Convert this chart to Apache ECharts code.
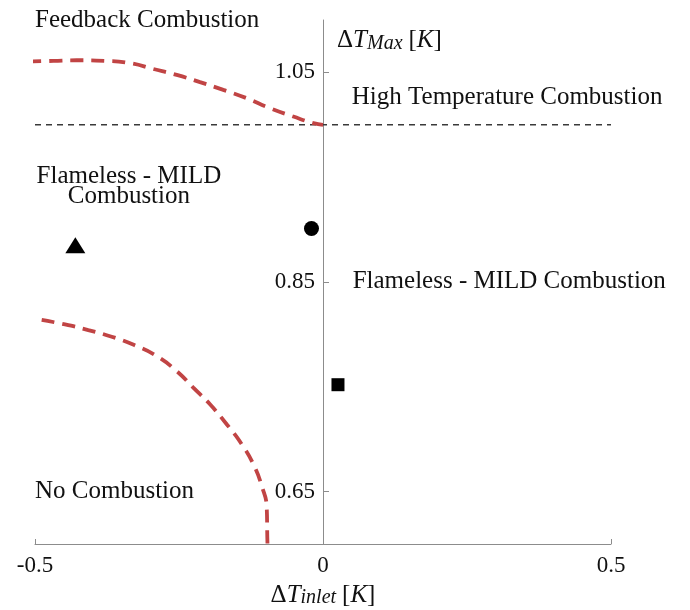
<!DOCTYPE html>
<html>
<head>
<meta charset="utf-8">
<script src="https://cdn.jsdelivr.net/npm/echarts@6/dist/echarts.min.js"></script>
<style>
  html, body { margin: 0; padding: 0; background: #fff; }
  #chart { width: 690px; height: 610px; }
</style>
</head>
<body>
<div id="chart"></div>
<script>
// Axis ticks
const xTicks = [-0.5, 0, 0.5];
const yTicks = [0.65, 0.85, 1.05];

// Regime boundaries (ΔT_inlet, ΔT_max)
const upperBoundary = [
  [-0.5116, 1.0603], [-0.4682, 1.0610], [-0.4276, 1.0616], [-0.3785, 1.0610],
  [-0.3351, 1.0588], [-0.2946, 1.0533], [-0.2540, 1.0476], [-0.2135, 1.0407],
  [-0.1731, 1.0333], [-0.1325, 1.0254], [-0.0920, 1.0159], [-0.0516, 1.0079],
  [-0.0168, 1.0016], [0.0, 1.0]
];
const lowerBoundary = [
  [-0.4884, 0.8138], [-0.4479, 0.8095], [-0.4075, 0.8041], [-0.3668, 0.7978],
  [-0.3276, 0.7898], [-0.2887, 0.7793], [-0.2540, 0.7650], [-0.2252, 0.7492],
  [-0.1962, 0.7333], [-0.1672, 0.7143], [-0.1411, 0.6952], [-0.1210, 0.6762],
  [-0.1064, 0.6555], [-0.0977, 0.6350], [-0.0967, 0.6064], [-0.0964, 0.6]
];
const thresholdLine = [[-0.5, 1.0], [0.5, 1.0]];

// Operating points
const trianglePoint = [[-0.43, 0.885]];
const circlePoint = [[-0.02, 0.901]];
const squarePoint = [[0.026, 0.752]];

// Regime names, anchored in data coordinates
const regionLeftLabels = [
  { value: [-0.5, 1.1], text: 'Feedback Combustion' },
  { value: [0.05, 1.0257], text: 'High Temperature Combustion' },
  { value: [0.0515, 0.8508], text: 'Flameless - MILD Combustion' },
  { value: [-0.5, 0.6505], text: 'No Combustion' }
];
const regionCenterLabels = [
  { value: [-0.337, 0.9413], text: 'Flameless - MILD\nCombustion' }
];

const SERIF = '"Liberation Serif", "Times New Roman", serif';
const INK = '#111';
const AXIS = '#8c8c8c';
const RED = '#c14444';

// Rich-text styles for ΔT with a subscript
const mathRich = {
  a: { fontFamily: SERIF, fontSize: 25, color: INK, fill: INK, height: 26, verticalAlign: 'middle' },
  i: { fontFamily: SERIF, fontSize: 25, fontStyle: 'italic', color: INK, fill: INK, height: 26, verticalAlign: 'middle' },
  s: { fontFamily: SERIF, fontSize: 20, fontStyle: 'italic', color: INK, fill: INK, lineHeight: 16, verticalAlign: 'bottom' },
  b: { fontFamily: SERIF, fontSize: 25, color: INK, fill: INK, height: 26, verticalAlign: 'middle', padding: [0, 0, 0, 6] }
};

const chart = echarts.init(document.getElementById('chart'), null, { renderer: 'canvas' });

const option = {
  backgroundColor: '#ffffff',
  animation: false,
  grid: { left: 35, right: 79, top: 20, bottom: 66, outerBoundsMode: 'none' },
  xAxis: {
    type: 'value',
    min: -0.5,
    max: 0.5,
    interval: 0.5,
    splitLine: { show: false },
    axisLine: { onZero: false, lineStyle: { color: AXIS, width: 1 } },
    axisTick: { show: true, inside: true, length: 5, lineStyle: { color: AXIS }, customValues: xTicks },
    axisLabel: {
      customValues: xTicks,
      margin: 10,
      fontFamily: SERIF, fontSize: 23, color: INK,
      formatter: v => (v === 0 ? '0' : String(v))
    },
    name: '{a|Δ}{i|T}{s|inlet}{b|[}{i|K}{a|]}',
    nameLocation: 'middle',
    nameGap: 38,
    nameTextStyle: { rich: mathRich }
  },
  yAxis: {
    type: 'value',
    min: 0.6,
    max: 1.1,
    // vertical axis sits at ΔT_inlet = 0, half the plot width in from the left edge
    offset: -288,
    splitLine: { show: false },
    axisLine: { onZero: false, lineStyle: { color: AXIS, width: 1 } },
    axisTick: { show: true, inside: true, length: 6, lineStyle: { color: AXIS }, customValues: yTicks },
    axisLabel: {
      customValues: yTicks,
      margin: 8,
      fontFamily: SERIF, fontSize: 23, color: INK,
      formatter: v => v.toFixed(2)
    }
  },
  graphic: [
    {
      type: 'text',
      left: 337,
      top: 28,
      style: {
        text: '{a|Δ}{i|T}{s|Max}{b|[}{i|K}{a|]}',
        rich: mathRich
      }
    }
  ],
  series: [
    {
      type: 'line',
      name: 'threshold',
      data: thresholdLine,
      showSymbol: false,
      silent: true,
      lineStyle: { color: '#3a3a3a', width: 1.5, type: [6, 5] }
    },
    {
      type: 'line',
      name: 'upper boundary',
      data: upperBoundary,
      smooth: 0.5,
      clip: false,
      showSymbol: false,
      lineStyle: { color: RED, width: 3.8, type: [13, 8] }
    },
    {
      type: 'line',
      name: 'lower boundary',
      data: lowerBoundary,
      smooth: 0.5,
      clip: false,
      showSymbol: false,
      lineStyle: { color: RED, width: 3.8, type: [13, 8] }
    },
    {
      type: 'scatter',
      data: trianglePoint,
      symbol: 'triangle',
      symbolSize: [20, 16],
      itemStyle: { color: '#000', opacity: 1 }
    },
    {
      type: 'scatter',
      data: circlePoint,
      symbol: 'circle',
      symbolSize: 15,
      itemStyle: { color: '#000', opacity: 1 }
    },
    {
      type: 'scatter',
      data: squarePoint,
      symbol: 'rect',
      symbolSize: 13,
      itemStyle: { color: '#000', opacity: 1 }
    },
    {
      type: 'scatter',
      data: regionLeftLabels,
      symbolSize: 0,
      silent: true,
      itemStyle: { opacity: 1 },
      label: {
        show: true,
        position: 'inside',
        align: 'left',
        verticalAlign: 'middle',
        formatter: p => p.data.text,
        fontFamily: SERIF, fontSize: 25, color: INK
      }
    },
    {
      type: 'scatter',
      data: regionCenterLabels,
      symbolSize: 0,
      silent: true,
      itemStyle: { opacity: 1 },
      label: {
        show: true,
        position: 'inside',
        align: 'center',
        verticalAlign: 'middle',
        lineHeight: 20,
        formatter: p => p.data.text,
        fontFamily: SERIF, fontSize: 25, color: INK
      }
    }
  ]
};

chart.setOption(option);
</script>
</body>
</html>
